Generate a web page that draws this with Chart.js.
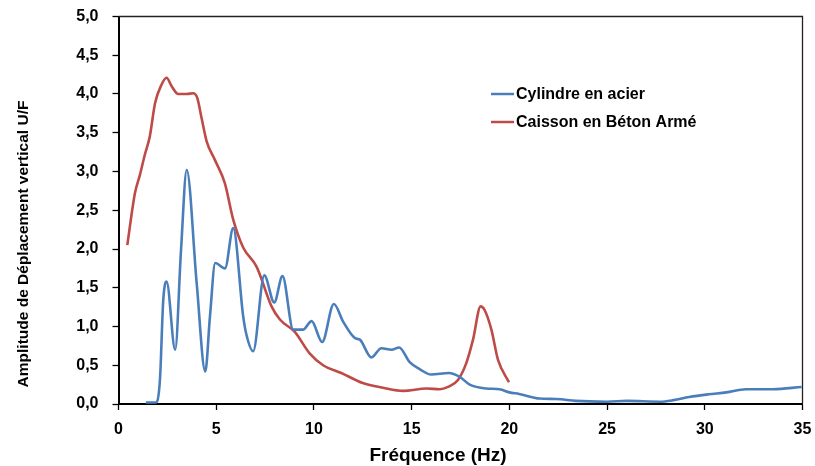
<!DOCTYPE html>
<html>
<head>
<meta charset="utf-8">
<script src="https://cdn.jsdelivr.net/npm/chart.js@4.4.0/dist/chart.umd.min.js"></script>
<style>
html,body{margin:0;padding:0;background:#fff;}
#wrap{width:815px;height:466px;position:relative;}
</style>
</head>
<body>
<div id="wrap"><canvas id="c" width="815" height="466"></canvas></div>
<script>
const seriesNames = ["Cylindre en acier", "Caisson en Béton Armé"];
const xTitle = "Fréquence (Hz)";
const yTitle = "Amplitude de Déplacement vertical U/F";

const cylX = [1.4, 1.9, 2.12, 2.29, 2.46, 2.9, 3.2, 3.49, 4.0, 4.44, 4.68, 4.95, 5.45, 5.87, 6.38, 6.55, 6.89, 7.46, 7.97, 8.39, 8.94, 9.45, 9.88, 10.42, 11.02, 11.5, 12.1, 12.35, 12.94, 13.45, 13.97, 14.36, 14.9, 15.41, 16.0, 16.9, 17.46, 17.97, 18.82, 19.5, 20.0, 20.5, 21.55, 22.4, 23.4, 25.0, 26.0, 27.7, 28.4, 29.2, 30.2, 31.1, 32.1, 33.5, 34.95];
const cylY = [0.02, 0.02, 0.31, 1.34, 1.58, 0.70, 1.99, 3.02, 1.56, 0.42, 1.13, 1.82, 1.75, 2.27, 1.13, 0.89, 0.68, 1.66, 1.31, 1.65, 0.96, 0.96, 1.07, 0.80, 1.29, 1.06, 0.85, 0.83, 0.60, 0.72, 0.70, 0.73, 0.54, 0.45, 0.38, 0.40, 0.35, 0.25, 0.20, 0.19, 0.15, 0.13, 0.07, 0.065, 0.04, 0.03, 0.04, 0.03, 0.05, 0.09, 0.125, 0.15, 0.19, 0.19, 0.22];

const caisX = [0.45, 0.84, 1.1, 1.35, 1.6, 1.87, 2.2, 2.46, 2.72, 3.06, 3.49, 3.82, 4.03, 4.25, 4.51, 4.93, 5.44, 5.87, 6.38, 7.07, 7.83, 8.26, 9.02, 9.79, 10.47, 11.4, 12.5, 13.54, 14.56, 15.76, 16.44, 16.86, 17.37, 17.8, 18.14, 18.53, 18.74, 19.08, 19.42, 19.98];
const caisY = [2.05, 2.72, 2.96, 3.22, 3.45, 3.88, 4.12, 4.21, 4.10, 4.00, 4.00, 4.01, 3.95, 3.69, 3.39, 3.15, 2.85, 2.38, 2.02, 1.77, 1.26, 1.09, 0.93, 0.65, 0.50, 0.40, 0.27, 0.21, 0.17, 0.20, 0.19, 0.22, 0.31, 0.53, 0.83, 1.26, 1.21, 0.96, 0.57, 0.28];

const xTicks = [0, 5, 10, 15, 20, 25, 30, 35];
const yTicks = ["0,0", "0,5", "1,0", "1,5", "2,0", "2,5", "3,0", "3,5", "4,0", "4,5", "5,0"];

const colors = ["#4a7ebb", "#be4b48"];
const FONT = "'Liberation Sans', Arial, sans-serif";

function pts(xs, ys){ return xs.map((x,i)=>({x:x, y:ys[i]})); }

const extras = {
  id: 'extras',
  afterDraw(chart){
    const ctx = chart.ctx, a = chart.chartArea;
    ctx.save();
    ctx.strokeStyle = '#222';
    ctx.lineWidth = 1.3;
    ctx.beginPath();
    ctx.moveTo(a.left, a.top); ctx.lineTo(a.right, a.top); ctx.lineTo(a.right, a.bottom);
    ctx.stroke();
    ctx.fillStyle = '#000';
    ctx.font = "bold 19px " + FONT;
    ctx.textAlign = 'center'; ctx.textBaseline = 'middle';
    ctx.fillText(xTitle, 438, 456);
    ctx.save();
    ctx.translate(24, 244);
    ctx.rotate(-Math.PI/2);
    ctx.font = "bold 15.5px " + FONT;
    ctx.fillText(yTitle, 0, 0);
    ctx.restore();
    ctx.font = "bold 16px " + FONT;
    ctx.textAlign = 'left';
    const ly = [94, 122];
    chart.data.datasets.forEach((ds, i) => {
      ctx.strokeStyle = ds.borderColor;
      ctx.lineWidth = 2.5;
      ctx.beginPath(); ctx.moveTo(491, ly[i]); ctx.lineTo(514, ly[i]); ctx.stroke();
      ctx.fillStyle = '#000';
      ctx.fillText(ds.label, 516, ly[i] + 1);
    });
    ctx.restore();
  }
};

new Chart(document.getElementById('c'), {
  type: 'scatter',
  data: {
    datasets: [
      {label: seriesNames[0], data: pts(cylX, cylY), showLine: true, borderColor: colors[0], backgroundColor: colors[0], borderWidth: 2.6, pointRadius: 0, cubicInterpolationMode: 'monotone'},
      {label: seriesNames[1], data: pts(caisX, caisY), showLine: true, borderColor: colors[1], backgroundColor: colors[1], borderWidth: 2.6, pointRadius: 0, cubicInterpolationMode: 'monotone'}
    ]
  },
  options: {
    responsive: false,
    animation: false,
    layout: {padding: {top: 16.5, right: 12.5, left: 0, bottom: 0}},
    plugins: {legend: {display: false}, tooltip: {enabled: false}},
    scales: {
      x: {
        type: 'linear', min: 0, max: 35,
        afterBuildTicks(s){ s.ticks = xTicks.map(v => ({value: v})); },
        afterFit(s){ s.height = 62; s.paddingLeft = 0; s.paddingRight = 0; },
        grid: {display: true, drawOnChartArea: false, drawTicks: true, tickLength: 6, tickColor: '#000', tickWidth: 1.3},
        border: {display: true, color: '#000', width: 2},
        ticks: {color: '#000', padding: 10, maxRotation: 0, font: {family: FONT, size: 16, weight: 'bold'}}
      },
      y: {
        type: 'linear', min: 0, max: 5,
        afterBuildTicks(s){ s.ticks = yTicks.map((t, i) => ({value: i * 0.5})); },
        afterFit(s){ s.width = 118.5; s.paddingTop = 0; s.paddingBottom = 0; },
        grid: {display: true, drawOnChartArea: false, drawTicks: true, tickLength: 6, tickColor: '#000', tickWidth: 1.3},
        border: {display: true, color: '#000', width: 2},
        ticks: {color: '#000', padding: 14, font: {family: FONT, size: 16, weight: 'bold'},
          callback: (v, i) => yTicks[i]}
      }
    }
  },
  plugins: [extras]
});
</script>
</body>
</html>
